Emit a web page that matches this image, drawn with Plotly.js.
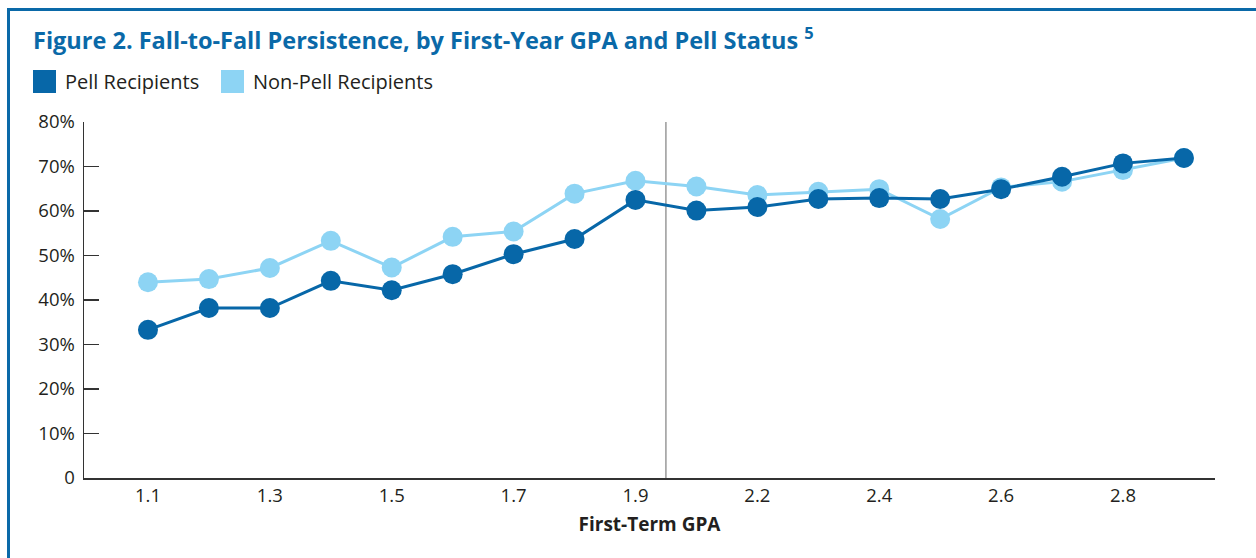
<!DOCTYPE html>
<html>
<head>
<meta charset="utf-8">
<script src="https://cdn.plot.ly/plotly-3.0.1.min.js"></script>
<style>
  html, body { margin: 0; padding: 0; background: #fff; }
  #wrap { position: relative; width: 1256px; height: 558px; overflow: hidden; }
  #frame { position: absolute; left: 7px; top: 8px; width: 1300px; height: 600px;
           border-top: 3px solid #0a69a8; border-left: 3px solid #0a69a8; pointer-events: none; }
  #chart { position: absolute; left: 0; top: 0; width: 1256px; height: 558px; }
</style>
</head>
<body>
<div id="wrap">
  <div id="chart"></div>
  <div id="frame"></div>
</div>
<script>
const gpa = ["1.1","1.2","1.3","1.4","1.5","1.6","1.7","1.8","1.9",
             "2.1","2.2","2.3","2.4","2.5","2.6","2.7","2.8","2.9"];
const pell = [33.3, 38.2, 38.2, 44.3, 42.2, 45.8, 50.3, 53.7, 62.5,
              60.1, 60.9, 62.7, 62.9, 62.7, 64.9, 67.7, 70.7, 71.9];
const nonPell = [44.0, 44.7, 47.2, 53.3, 47.3, 54.2, 55.4, 63.9, 66.8,
                 65.5, 63.6, 64.3, 64.9, 58.2, 65.3, 66.6, 69.2, 71.9];
const xTickLabels = ["1.1","1.3","1.5","1.7","1.9","2.2","2.4","2.6","2.8"];
const yTickVals = [0,10,20,30,40,50,60,70,80];
const yTickText = ["0","10%","20%","30%","40%","50%","60%","70%","80%"];
const seriesNames = ["Pell Recipients", "Non-Pell Recipients"];
const breakAfter = "1.9"; // vertical divider between 1.9 and 2.1

const DARK = "#0767a8";
const LIGHT = "#8dd4f4";
const TXT = "#231f20";
const FONT = "'Open Sans', 'Noto Sans', sans-serif";

const traces = [
  { x: gpa, y: nonPell, name: seriesNames[1], type: "scatter", mode: "lines+markers",
    line: { color: LIGHT, width: 3 }, marker: { color: LIGHT, size: 20 }, showlegend: false },
  { x: gpa, y: pell, name: seriesNames[0], type: "scatter", mode: "lines+markers",
    line: { color: DARK, width: 3 }, marker: { color: DARK, size: 20 }, showlegend: false }
];

const divIdx = gpa.indexOf(breakAfter) + 0.5;

const layout = {
  width: 1256, height: 558,
  margin: { l: 84, r: 41, t: 122, b: 80 },
  paper_bgcolor: "#fff", plot_bgcolor: "#fff",
  font: { family: FONT, color: TXT, size: 18 },
  title: {
    text: "Figure 2. Fall-to-Fall Persistence, by First-Year GPA and Pell Status <sup>5</sup>",
    font: { family: FONT, size: 23.5, color: "#0a69a8", weight: "bold" },
    xref: "container", yref: "container", x: 33/1256, xanchor: "left",
    y: 1 - 41/558, yanchor: "middle"
  },
  xaxis: {
    type: "category", categoryorder: "array", categoryarray: gpa,
    range: [-1.05, 17.51],
    tickmode: "array", tickvals: xTickLabels, ticktext: xTickLabels,
    showgrid: false, zeroline: false, showline: true, linecolor: "#333", linewidth: 1.5,
    ticks: "", tickfont: { size: 18.5, color: TXT },
    title: { text: "First-Term GPA", font: { size: 19, weight: "bold", color: TXT }, standoff: 12 },
    fixedrange: true
  },
  yaxis: {
    range: [0, 80], tickmode: "array", tickvals: yTickVals, ticktext: yTickText,
    showgrid: false, zeroline: false, showline: true, linecolor: "#333", linewidth: 1.5,
    ticks: "inside", ticklen: 15, tickcolor: "#333", tickwidth: 1.5,
    tickfont: { size: 18.5, color: TXT }, ticklabelstandoff: 4,
    fixedrange: true
  },
  shapes: [
    { type: "line", xref: "x", yref: "paper", x0: divIdx, x1: divIdx, y0: 0, y1: 1,
      line: { color: "#666", width: 1 }, layer: "below" },
    { type: "rect", xref: "paper", yref: "paper",
      x0: (33-84)/1131, x1: (56-84)/1131, y0: (478-93)/356, y1: (478-70)/356,
      fillcolor: DARK, line: { width: 0 } },
    { type: "rect", xref: "paper", yref: "paper",
      x0: (221-84)/1131, x1: (244-84)/1131, y0: (478-93)/356, y1: (478-70)/356,
      fillcolor: LIGHT, line: { width: 0 } }
  ],
  annotations: [
    { xref: "paper", yref: "paper", x: (63-84)/1131, y: (478-82)/356, xanchor: "left", yanchor: "middle",
      text: seriesNames[0], showarrow: false, font: { size: 20, color: TXT } },
    { xref: "paper", yref: "paper", x: (251-84)/1131, y: (478-82)/356, xanchor: "left", yanchor: "middle",
      text: seriesNames[1], showarrow: false, font: { size: 20, color: TXT } }
  ]
};

Plotly.newPlot("chart", traces, layout, { displayModeBar: false, staticPlot: true });
</script>
</body>
</html>
